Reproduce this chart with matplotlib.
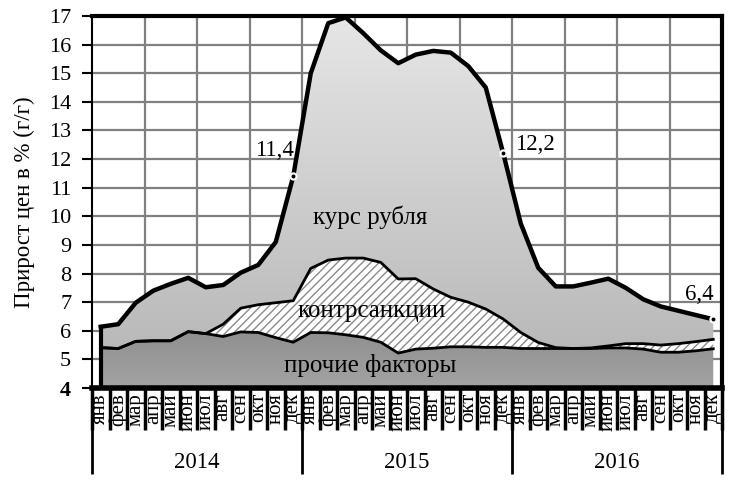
import numpy as np
import matplotlib
matplotlib.use('Agg')
import matplotlib.pyplot as plt
from matplotlib.colors import LinearSegmentedColormap

plt.rcParams['font.family'] = ['Liberation Serif', 'DejaVu Serif']
plt.rcParams['hatch.linewidth'] = 1.0

# Data (percent, y/y), Jan 2014 .. Dec 2016
months = ['янв', 'фев', 'мар', 'апр', 'май', 'июн',
          'июл', 'авг', 'сен', 'окт', 'ноя', 'дек']
years = ['2014', '2015', '2016']

# total inflation (top line)
total = [6.14, 6.23, 6.98, 7.4, 7.64, 7.85, 7.52, 7.6, 8.03, 8.3, 9.1, 11.4,
         15.0, 16.75, 16.95, 16.4, 15.8, 15.35, 15.65, 15.78, 15.72, 15.25, 14.5, 12.2,
         9.75, 8.2, 7.55, 7.55, 7.68, 7.82, 7.5, 7.1, 6.85, 6.7, 6.55, 6.4]
# other factors + counter-sanctions (middle line)
with_sanctions = [5.41, 5.38, 5.63, 5.65, 5.65, 5.97, 5.9, 6.23, 6.79, 6.91, 6.98, 7.05,
                  8.18, 8.47, 8.54, 8.54, 8.39, 7.81, 7.82, 7.46, 7.17, 7.0, 6.76, 6.41,
                  5.94, 5.59, 5.41, 5.38, 5.4, 5.47, 5.55, 5.55, 5.5, 5.55, 5.62, 5.7]
# other factors (bottom layer)
other = [5.41, 5.38, 5.63, 5.65, 5.65, 5.97, 5.9, 5.8, 5.96, 5.94, 5.76, 5.6,
         5.94, 5.93, 5.86, 5.77, 5.6, 5.22, 5.36, 5.39, 5.44, 5.44, 5.42, 5.42,
         5.38, 5.38, 5.38, 5.38, 5.38, 5.4, 5.4, 5.36, 5.25, 5.25, 5.3, 5.37]

x = np.arange(len(total))

fig = plt.figure(figsize=(7.37, 4.87), dpi=100)
ax = fig.add_axes([92 / 737, (487 - 388) / 487, 630 / 737, (388 - 16) / 487])

ymin, ymax = 4, 17
xmin, xmax = -0.5, len(total) - 0.5

# grid
for yv in range(5, 17):
    ax.axhline(yv, color='#808080', lw=1.6, zorder=0)
for xv in np.arange(2.5, 33, 3):
    ax.axvline(xv, color='#808080', lw=1.6, zorder=0)

# bottom layer with gradient
grad = np.linspace(0, 1, 256).reshape(-1, 1)
poly_dark = ax.fill_between(x, ymin, other, facecolor='none', edgecolor='none', zorder=2)
cm_dark = LinearSegmentedColormap.from_list('dark', ['#a3a3a3', '#8e8e8e'])
im = ax.imshow(grad, extent=[xmin, xmax, ymin, 6.1], origin='lower', cmap=cm_dark,
               aspect='auto', zorder=2)
im.set_clip_path(poly_dark.get_paths()[0], transform=ax.transData)

# counter-sanctions (hatched)
ax.fill_between(x, other, with_sanctions, facecolor='white', edgecolor='#8a8a8a',
                hatch='////', linewidth=0, zorder=2)

# rouble exchange rate (light gradient)
poly_light = ax.fill_between(x, with_sanctions, total, facecolor='none', edgecolor='none', zorder=2)
cm_light = LinearSegmentedColormap.from_list('light', ['#b4b4b4', '#e6e6e6'])
im2 = ax.imshow(grad, extent=[xmin, xmax, ymin, ymax], origin='lower', cmap=cm_light,
                aspect='auto', zorder=2)
im2.set_clip_path(poly_light.get_paths()[0], transform=ax.transData)

# outlines
ax.plot(x, other, color='black', lw=2, zorder=3)
ax.plot(x, with_sanctions, color='black', lw=2, zorder=3)
ax.plot(x, total, color='black', lw=3.2, zorder=4, solid_joinstyle='round')
ax.plot([0, 0], [ymin, total[0]], color='black', lw=3, zorder=4)

# marked points
for i in [11, 23, 35]:
    ax.plot(x[i], total[i], 'o', mfc='white', mec='white', ms=5, zorder=5)
    ax.plot(x[i], total[i], 'o', mfc='black', mec='black', ms=1.8, zorder=6)

ax.text(11.05, 12.3, '11,4', ha='right', va='center', fontsize=16.5, zorder=6)
ax.text(23.7, 12.5, '12,2', ha='left', va='center', fontsize=16.5, zorder=6)
ax.text(34.2, 7.25, '6,4', ha='center', va='center', fontsize=16.5, zorder=6)

ax.text(15.4, 9.95, 'курс рубля', ha='center', va='center', fontsize=18, zorder=6)
ax.text(15.5, 6.7, 'контрсанкции', ha='center', va='center', fontsize=18, zorder=6)
ax.text(15.4, 4.78, 'прочие факторы', ha='center', va='center', fontsize=18, zorder=6)

ax.set_xlim(xmin, xmax)
ax.set_ylim(ymin, ymax)
ax.set_xticks([])
ax.set_yticks(range(4, 18))
ax.tick_params(axis='y', direction='out', length=7, width=1.5, pad=8, labelsize=16)
ax.get_yticklabels()[0].set_fontweight('bold')
ax.set_ylabel('Прирост цен в % (г/г)', fontsize=16.5, labelpad=10)

ax.spines['top'].set_linewidth(3)
ax.spines['right'].set_linewidth(3)
ax.spines['bottom'].set_linewidth(4)
ax.spines['left'].set_linewidth(1.5)

# month and year labels under the axis
tr = ax.get_xaxis_transform()
for k in range(len(total) + 1):
    ax.plot([k - 0.5, k - 0.5], [0, -0.113], color='black', lw=2.5, transform=tr,
            clip_on=False, solid_capstyle='butt')
for k in range(len(total)):
    ax.text(k, -0.014, months[k % 12], rotation=90, ha='center', va='top',
            fontsize=15, transform=tr)
for j, yr in enumerate(years):
    ax.plot([j * 12 - 0.5] * 2, [0, -0.232], color='black', lw=2, transform=tr,
            clip_on=False, solid_capstyle='butt')
    ax.text(j * 12 + 5.5, -0.2, yr, ha='center', va='center', fontsize=16.5, transform=tr)
ax.plot([xmax] * 2, [0, -0.232], color='black', lw=2, transform=tr, clip_on=False,
        solid_capstyle='butt')

fig.savefig('out.png', dpi=100)
